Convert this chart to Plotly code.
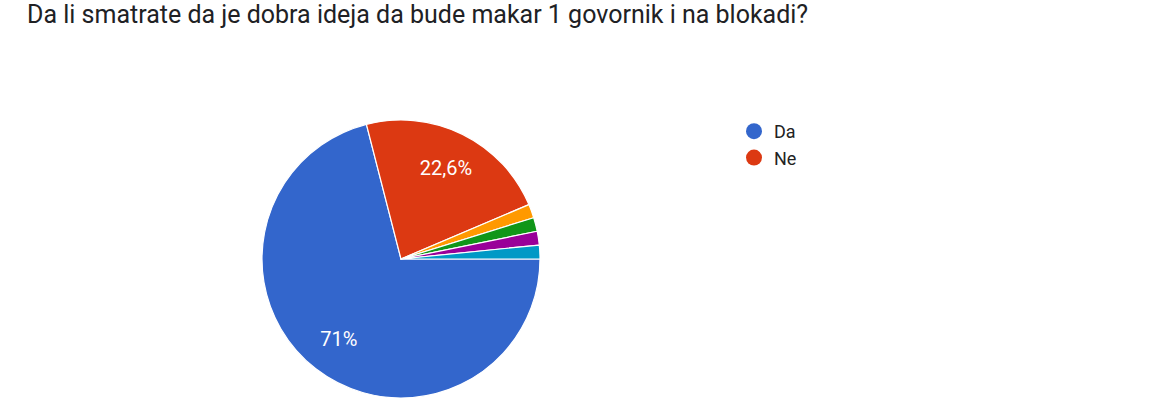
import plotly.graph_objects as go

# Data
title_text = "Da li smatrate da je dobra ideja da bude makar 1 govornik i na blokadi?"
labels = ["Da", "Ne", "Ostalo 1", "Ostalo 2", "Ostalo 3", "Ostalo 4"]
values = [71.0, 22.6, 1.6, 1.6, 1.6, 1.6]
slice_text = ["71%", "22,6%", "", "", "", ""]
legend_labels = ["Da", "Ne"]
colors = ["#3366cc", "#dc3912", "#ff9900", "#109618", "#990099", "#0099c6"]

W, H = 1172, 398
cx, cy, R = 401, 259, 139
dom = dict(x=[(cx - R) / W, (cx + R) / W], y=[max(0, (H - cy - R) / H), (H - cy + R) / H])

fig = go.Figure()
# filled pie (no text)
fig.add_trace(go.Pie(
    labels=labels, values=values,
    textinfo="none",
    marker=dict(colors=colors, line=dict(color="white", width=1.2)),
    sort=False, direction="clockwise", rotation=90,
    showlegend=False, hoverinfo="label+percent",
    domain=dom,
))
# transparent ring carrying the percentage labels
fig.add_trace(go.Pie(
    labels=labels, values=values, text=slice_text,
    textinfo="text", textposition="inside",
    insidetextorientation="horizontal",
    textfont=dict(family="Roboto, Arial, sans-serif", size=20, color="white"),
    hole=0.46,
    marker=dict(colors=["rgba(0,0,0,0)"] * len(values), line=dict(width=0)),
    sort=False, direction="clockwise", rotation=90,
    showlegend=False, hoverinfo="skip",
    domain=dom,
))

for i, lab in enumerate(legend_labels):
    fig.add_trace(go.Scatter(
        x=[None], y=[None], mode="markers", name=lab,
        marker=dict(color=colors[i], size=18, symbol="circle"),
        showlegend=True,
    ))

fig.update_layout(
    width=W, height=H,
    margin=dict(l=0, r=0, t=0, b=0),
    paper_bgcolor="white", plot_bgcolor="white",
    title=dict(text=title_text, x=27 / W, xanchor="left", xref="paper",
               y=1 - 5 / H, yref="container", yanchor="top",
               font=dict(family="Roboto, Arial, sans-serif", size=25, color="#202124"),
               pad=dict(t=0, b=0, l=0, r=0)),
    xaxis=dict(visible=False), yaxis=dict(visible=False),
    legend=dict(x=734 / W, xanchor="left", y=1 - 113 / H, yanchor="top",
                font=dict(family="Roboto, Arial, sans-serif", size=18, color="#222222"),
                tracegroupgap=0, bgcolor="rgba(0,0,0,0)"),
    showlegend=True,
)

fig.write_html("out.html")
